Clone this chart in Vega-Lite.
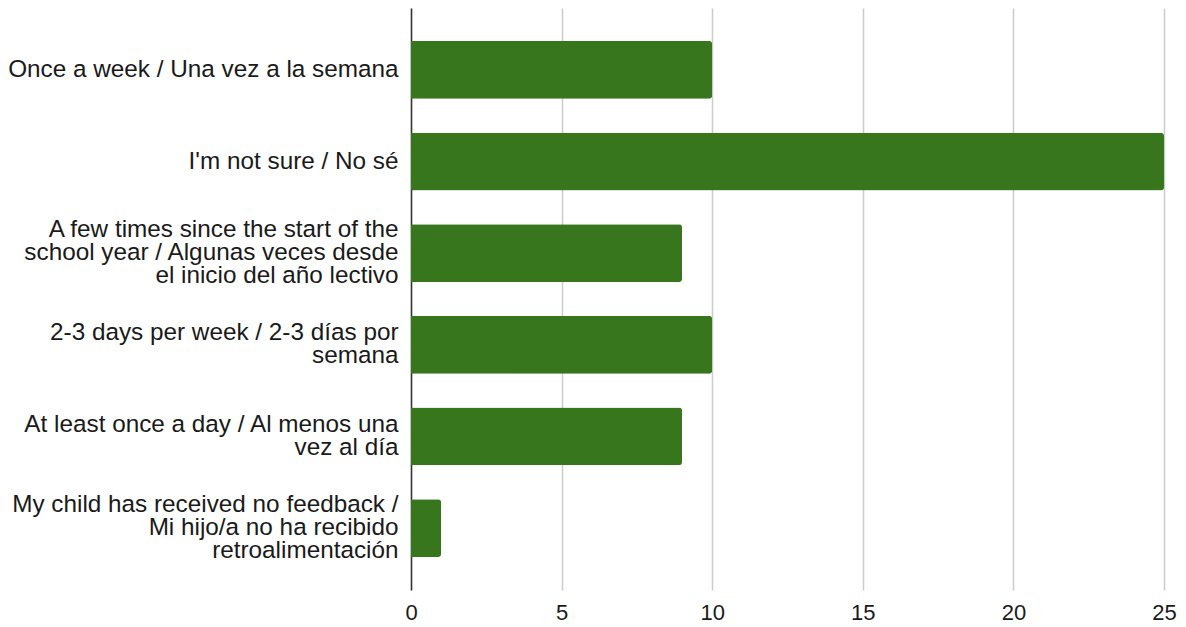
{
  "$schema": "https://vega.github.io/schema/vega-lite/v6.json",
  "width": 753,
  "height": 582,
  "autosize": {"type": "none"},
  "padding": {"left": 411, "top": 8, "right": 22, "bottom": 37},
  "background": "white",
  "data": {
    "values": [
      {"category": "Once a week / Una vez a la semana", "count": 10},
      {"category": "I'm not sure / No sé", "count": 25},
      {"category": "A few times since the start of the|school year / Algunas veces desde|el inicio del año lectivo", "count": 9},
      {"category": "2-3 days per week / 2-3 días por|semana", "count": 10},
      {"category": "At least once a day / Al menos una|vez al día", "count": 9},
      {"category": "My child has received no feedback /|Mi hijo/a no ha recibido|retroalimentación", "count": 1}
    ]
  },
  "mark": {"type": "bar", "color": "#38761d", "cornerRadiusEnd": 3},
  "encoding": {
    "y": {
      "field": "category",
      "type": "nominal",
      "sort": null,
      "scale": {"paddingInner": 0.37, "paddingOuter": 0.36},
      "axis": {
        "title": null,
        "labelExpr": "split(datum.label, '|')",
        "labelOffset": {"expr": "-(length(split(datum.label, '|')) - 1) * 11.5"},
        "labelFont": "Liberation Sans",
        "labelFontSize": 24.3,
        "labelLineHeight": 23,
        "labelColor": "#1a1a1a",
        "labelPadding": 13,
        "labelLimit": 420,
        "ticks": false,
        "domainColor": "#333333",
        "domainWidth": 1.5,
        "grid": false
      }
    },
    "x": {
      "field": "count",
      "type": "quantitative",
      "scale": {"domain": [0, 25], "nice": false},
      "axis": {
        "title": null,
        "values": [0, 5, 10, 15, 20, 25],
        "labelFont": "Liberation Sans",
        "labelFontSize": 22,
        "labelColor": "#1a1a1a",
        "labelPadding": 12,
        "labelFlush": false,
        "ticks": false,
        "domain": false,
        "grid": true,
        "gridColor": "#cccccc",
        "gridWidth": 1.5
      }
    }
  },
  "config": {"view": {"stroke": null}}
}
